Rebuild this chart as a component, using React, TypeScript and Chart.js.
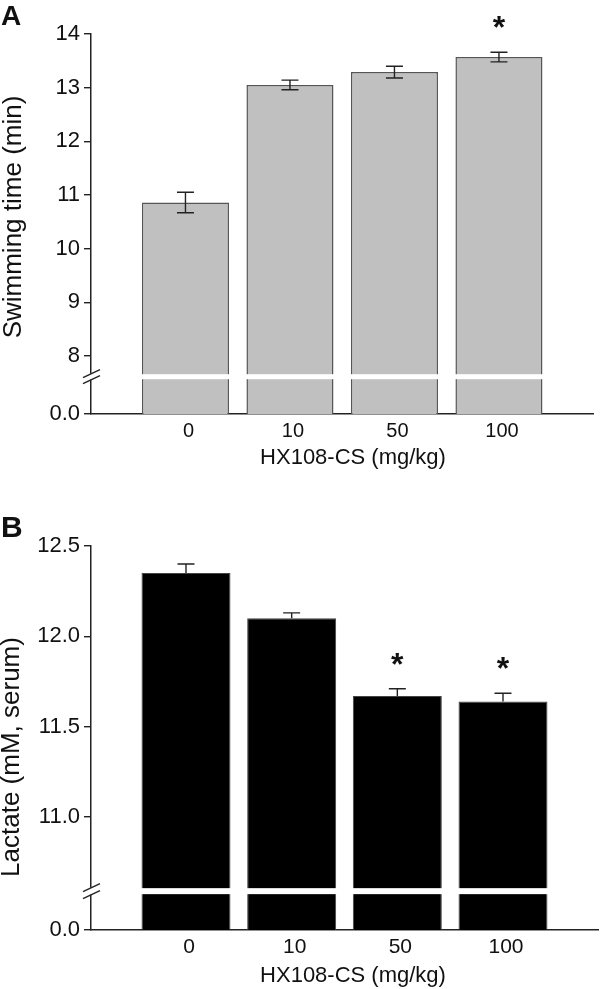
import React, { useEffect, useRef } from 'react';
import { Chart, registerables } from 'chart.js';

Chart.register(...registerables);

// ---------- data ----------
const categories = ['0', '10', '50', '100'];

const swimMean = [10.86, 13.05, 13.29, 13.57];
const swimSem = [0.19, 0.09, 0.11, 0.09];
const swimSig = [false, false, false, true];
const swimTicks = [8, 9, 10, 11, 12, 13, 14];

const lactateMean = [12.35, 12.1, 11.67, 11.64];
const lactateSem = [0.05, 0.03, 0.04, 0.045];
const lactateSig = [false, false, true, true];
const lactateTicks = [11.0, 11.5, 12.0, 12.5];

const FONT = '"Liberation Sans", Arial, Helvetica, sans-serif';

type Panel = {
  letter: string;
  letterSize: number;
  letterY: number;
  yTitle: string;
  xTitle: string;
  means: number[];
  sems: number[];
  sig: boolean[];
  ticks: number[];
  decimals: number;
  yMin: number;
  yMax: number;
  breakAt: number;
  breakH: number;
  slashDy: number;
  xMin: number;
  xMax: number;
  barPct: number;
  fill: string;
  border: string;
  borderWidth: number;
  upperOnly: boolean;
  height: number;
  padTop: number;
  padRight: number;
  xAxisH: number;
  yTitleY: number;
  yTitleX: number;
  xTitleDy: number;
  yTickSize: number;
  xTickSize: number;
};

const annotPlugin = {
  id: 'annot',
  afterDraw(chart: any) {
    const p: Panel = chart.options.plugins.annot.panel;
    const ctx = chart.ctx as CanvasRenderingContext2D;
    const xs = chart.scales.x;
    const ys = chart.scales.y;
    const ca = chart.chartArea;
    ctx.save();

    // error bars + significance stars
    ctx.strokeStyle = '#222';
    ctx.lineWidth = 1.4;
    const capW = 17;
    p.means.forEach((m, i) => {
      const x = xs.getPixelForValue(i);
      const yT = ys.getPixelForValue(m + p.sems[i]);
      const yB = p.upperOnly ? ys.getPixelForValue(m) : ys.getPixelForValue(m - p.sems[i]);
      ctx.beginPath();
      ctx.moveTo(x, yT);
      ctx.lineTo(x, yB);
      ctx.moveTo(x - capW / 2, yT);
      ctx.lineTo(x + capW / 2, yT);
      if (!p.upperOnly) {
        ctx.moveTo(x - capW / 2, yB);
        ctx.lineTo(x + capW / 2, yB);
      }
      ctx.stroke();
      if (p.sig[i]) {
        ctx.fillStyle = '#111';
        ctx.font = `bold 32px ${FONT}`;
        ctx.textAlign = 'center';
        ctx.textBaseline = 'alphabetic';
        ctx.fillText('*', x, yT - 32 + 18);
      }
    });

    // axis break: white stripe through bars
    const yc = ys.getPixelForValue(p.breakAt);
    ctx.fillStyle = '#fff';
    ctx.fillRect(ca.left + 1, yc - p.breakH / 2, ca.right - ca.left, p.breakH);
    // gap in the axis line
    ctx.fillRect(ca.left - 2, yc - p.slashDy, 4, p.slashDy * 2);
    // slashes
    ctx.strokeStyle = '#222';
    ctx.lineWidth = 1.4;
    [-p.slashDy, p.slashDy].forEach((d) => {
      ctx.beginPath();
      ctx.moveTo(ca.left - 8, yc + d + 4);
      ctx.lineTo(ca.left + 9, yc + d - 4);
      ctx.stroke();
    });

    // titles
    ctx.fillStyle = '#111';
    ctx.textAlign = 'center';
    ctx.textBaseline = 'middle';
    ctx.font = `22px ${FONT}`;
    ctx.fillText(p.xTitle, 353, ca.bottom + p.xTitleDy);

    ctx.save();
    ctx.translate(p.yTitleX, p.yTitleY);
    ctx.rotate(-Math.PI / 2);
    ctx.font = `26px ${FONT}`;
    ctx.fillText(p.yTitle, 0, 0);
    ctx.restore();

    // panel letter
    ctx.font = `bold ${p.letterSize}px ${FONT}`;
    ctx.textAlign = 'left';
    ctx.textBaseline = 'alphabetic';
    ctx.fillText(p.letter, 1, p.letterY);

    ctx.restore();
  },
};

function makeChart(canvas: HTMLCanvasElement, p: Panel) {
  const data = p.means.map((v, i) => ({ x: i, y: v }));
  return new Chart(canvas, {
    type: 'bar',
    data: {
      datasets: [
        {
          data: data as any,
          backgroundColor: p.fill,
          borderColor: p.border,
          borderWidth: p.borderWidth,
          barPercentage: p.barPct,
          categoryPercentage: 1,
        },
      ],
    },
    options: {
      responsive: false,
      animation: false,
      layout: { padding: { top: p.padTop, right: p.padRight, left: 0, bottom: 0 } },
      plugins: {
        legend: { display: false },
        tooltip: { enabled: false },
        annot: { panel: p },
      } as any,
      scales: {
        x: {
          type: 'linear',
          min: p.xMin,
          max: p.xMax,
          offset: false,
          z: 1,
          grid: { drawOnChartArea: false, drawTicks: false },
          border: { display: true, color: '#222', width: 1.5 },
          ticks: {
            padding: 5,
            labelOffset: 3,
            color: '#111',
            font: { size: p.xTickSize, family: FONT },
            callback: (v: any) => categories[Number(v)] ?? '',
          },
          afterBuildTicks: (scale: any) => {
            scale.ticks = categories.map((_, i) => ({ value: i }));
          },
          afterFit: (scale: any) => {
            scale.height = p.xAxisH;
          },
        },
        y: {
          type: 'linear',
          min: p.yMin,
          max: p.yMax,
          grid: { drawOnChartArea: false, drawTicks: true, tickLength: 7, color: '#222', lineWidth: 1.4 },
          border: { display: true, color: '#222', width: 1.5 },
          ticks: {
            padding: 4,
            color: '#111',
            font: { size: p.yTickSize, family: FONT },
            callback: (v: any, idx: number) => (idx === 0 ? '0.0' : Number(v).toFixed(p.decimals)),
          },
          afterBuildTicks: (scale: any) => {
            scale.ticks = [p.yMin, ...p.ticks].map((v) => ({ value: v }));
          },
          afterFit: (scale: any) => {
            scale.width = 91;
          },
        },
      },
    },
    plugins: [annotPlugin],
  } as any);
}

const panelA: Panel = {
  letter: 'A',
  letterSize: 28,
  letterY: 25,
  yTitle: 'Swimming time (min)',
  xTitle: 'HX108-CS (mg/kg)',
  means: swimMean,
  sems: swimSem,
  sig: swimSig,
  ticks: swimTicks,
  decimals: 0,
  yMin: 6.919,
  yMax: 14,
  breakAt: 7.614,
  breakH: 5,
  slashDy: 3,
  xMin: -0.904,
  xMax: 3.9,
  barPct: 0.833,
  fill: '#c0c0c0',
  border: '#555',
  borderWidth: 1.5,
  upperOnly: false,
  height: 480,
  padTop: 34,
  padRight: 7,
  xAxisH: 66,
  yTitleX: 14,
  yTitleY: 217,
  xTitleDy: 44,
  yTickSize: 22,
  xTickSize: 20,
};

const panelB: Panel = {
  letter: 'B',
  letterSize: 30,
  letterY: 57,
  yTitle: 'Lactate (mM, serum)',
  xTitle: 'HX108-CS (mg/kg)',
  means: lactateMean,
  sems: lactateSem,
  sig: lactateSig,
  ticks: lactateTicks,
  decimals: 1,
  yMin: 10.375,
  yMax: 12.5,
  breakAt: 10.59,
  breakH: 6,
  slashDy: 3.5,
  xMin: -0.899,
  xMax: 3.899,
  barPct: 0.842,
  fill: '#000',
  border: '#444',
  borderWidth: 1,
  upperOnly: true,
  height: 509,
  padTop: 66,
  padRight: 2,
  xAxisH: 59,
  yTitleX: 12,
  yTitleY: 277,
  xTitleDy: 46,
  yTickSize: 22,
  xTickSize: 21,
};

function PanelChart({ p, top }: { p: Panel; top: number }) {
  const ref = useRef<HTMLCanvasElement | null>(null);
  useEffect(() => {
    if (!ref.current) return;
    const c = makeChart(ref.current, p);
    return () => c.destroy();
  }, [p]);
  return (
    <canvas
      ref={ref}
      width={600}
      height={p.height}
      style={{ position: 'absolute', left: 0, top, width: 600, height: p.height, display: 'block' }}
    />
  );
}

export default function App() {
  return (
    <div style={{ position: 'absolute', left: 0, top: 0, width: 600, height: 989, background: '#fff', overflow: 'hidden' }}>
      <PanelChart p={panelA} top={0} />
      <PanelChart p={panelB} top={480} />
    </div>
  );
}
